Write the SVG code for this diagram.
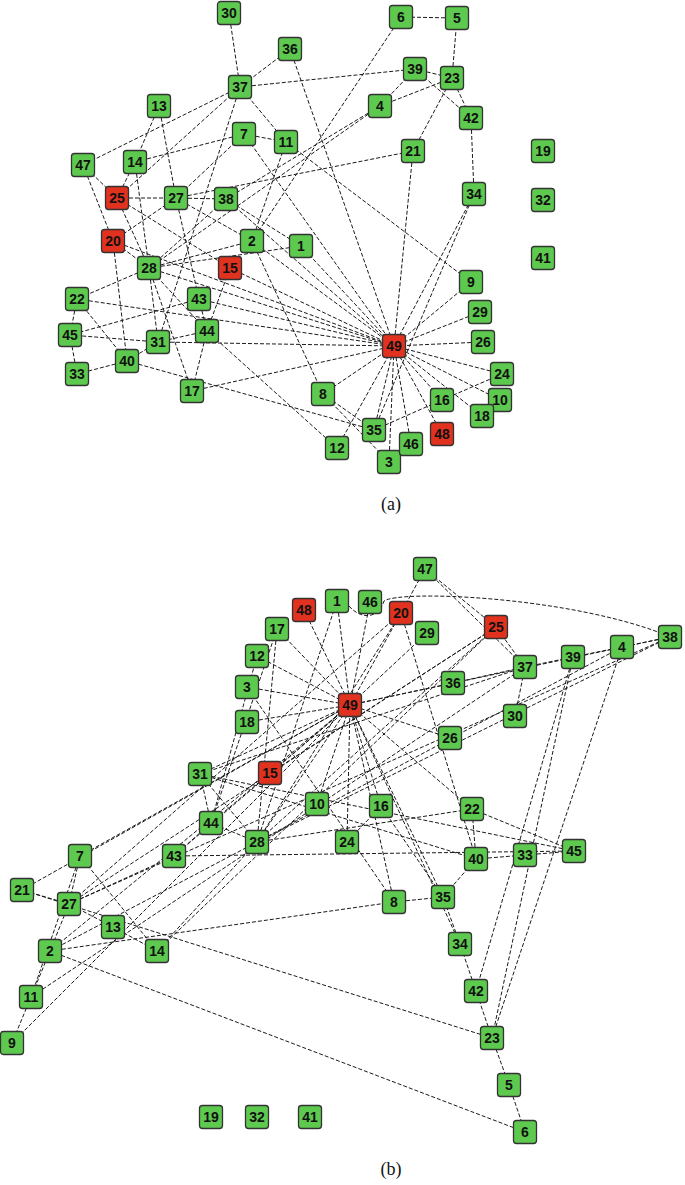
<svg xmlns="http://www.w3.org/2000/svg" width="685" height="1185" viewBox="0 0 685 1185">
<defs>
<style>
.e line, .e path { stroke:#1a1a1a; stroke-width:1; stroke-dasharray:4 2; fill:none; }
.n rect { width:23px; height:23px; rx:3px; stroke:#333; stroke-width:1.3; fill:#5ec94f; }
.n.r rect { fill:#e0321f; }
.n text { font-family:"Liberation Sans", Arial, sans-serif; font-weight:bold; font-size:14px; fill:#111; text-anchor:middle; }
.cap { font-family:"Liberation Serif", "Times New Roman", serif; font-size:18px; fill:#111; text-anchor:middle; }
</style>
</defs>
<rect width="685" height="1185" fill="#fff"/>
<g id="edges-a" class="e">
<line x1="229" y1="13" x2="240" y2="87"/>
<line x1="290" y1="49" x2="240" y2="87"/>
<line x1="290" y1="49" x2="394" y2="346"/>
<line x1="240" y1="87" x2="415" y2="69"/>
<line x1="240" y1="87" x2="83" y2="165"/>
<line x1="240" y1="87" x2="117" y2="198"/>
<line x1="240" y1="87" x2="158" y2="342"/>
<line x1="240" y1="87" x2="286" y2="142"/>
<line x1="159" y1="106" x2="135" y2="162"/>
<line x1="159" y1="106" x2="176" y2="198"/>
<line x1="244" y1="134" x2="135" y2="162"/>
<line x1="244" y1="134" x2="286" y2="142"/>
<line x1="244" y1="134" x2="176" y2="198"/>
<line x1="244" y1="134" x2="394" y2="346"/>
<line x1="83" y1="165" x2="117" y2="198"/>
<line x1="83" y1="165" x2="113" y2="241"/>
<line x1="135" y1="162" x2="117" y2="198"/>
<line x1="135" y1="162" x2="149" y2="268"/>
<line x1="117" y1="198" x2="176" y2="198"/>
<line x1="117" y1="198" x2="149" y2="268"/>
<line x1="117" y1="198" x2="230" y2="268"/>
<line x1="176" y1="198" x2="413" y2="151"/>
<line x1="176" y1="198" x2="226" y2="199"/>
<line x1="176" y1="198" x2="113" y2="241"/>
<line x1="176" y1="198" x2="252" y2="241"/>
<line x1="176" y1="198" x2="199" y2="299"/>
<line x1="226" y1="199" x2="380" y2="106"/>
<line x1="226" y1="199" x2="301" y2="246"/>
<line x1="226" y1="199" x2="394" y2="346"/>
<line x1="226" y1="199" x2="149" y2="268"/>
<line x1="149" y1="268" x2="380" y2="106"/>
<line x1="252" y1="241" x2="401" y2="17"/>
<line x1="415" y1="69" x2="380" y2="106"/>
<line x1="415" y1="69" x2="452" y2="78"/>
<line x1="415" y1="69" x2="471" y2="118"/>
<line x1="452" y1="78" x2="457" y2="18"/>
<line x1="457" y1="18" x2="401" y2="17"/>
<line x1="452" y1="78" x2="380" y2="106"/>
<line x1="452" y1="78" x2="471" y2="118"/>
<line x1="452" y1="78" x2="413" y2="151"/>
<line x1="471" y1="118" x2="474" y2="194"/>
<line x1="413" y1="151" x2="394" y2="346"/>
<line x1="474" y1="194" x2="394" y2="346"/>
<line x1="474" y1="194" x2="374" y2="430"/>
<line x1="471" y1="282" x2="394" y2="346"/>
<line x1="480" y1="312" x2="394" y2="346"/>
<line x1="483" y1="342" x2="394" y2="346"/>
<line x1="502" y1="374" x2="394" y2="346"/>
<line x1="500" y1="400" x2="394" y2="346"/>
<line x1="482" y1="416" x2="394" y2="346"/>
<line x1="442" y1="400" x2="394" y2="346"/>
<line x1="442" y1="434" x2="394" y2="346"/>
<line x1="411" y1="444" x2="394" y2="346"/>
<line x1="389" y1="462" x2="394" y2="346"/>
<line x1="374" y1="430" x2="394" y2="346"/>
<line x1="337" y1="448" x2="394" y2="346"/>
<line x1="323" y1="394" x2="394" y2="346"/>
<line x1="192" y1="391" x2="394" y2="346"/>
<line x1="158" y1="342" x2="394" y2="346"/>
<line x1="77" y1="299" x2="394" y2="346"/>
<line x1="199" y1="299" x2="394" y2="346"/>
<line x1="149" y1="268" x2="394" y2="346"/>
<line x1="230" y1="268" x2="394" y2="346"/>
<line x1="252" y1="241" x2="394" y2="346"/>
<line x1="301" y1="246" x2="394" y2="346"/>
<line x1="113" y1="241" x2="394" y2="346"/>
<line x1="113" y1="241" x2="149" y2="268"/>
<line x1="113" y1="241" x2="127" y2="361"/>
<line x1="149" y1="268" x2="77" y2="299"/>
<line x1="149" y1="268" x2="158" y2="342"/>
<line x1="149" y1="268" x2="192" y2="391"/>
<line x1="149" y1="268" x2="252" y2="241"/>
<line x1="149" y1="268" x2="301" y2="246"/>
<line x1="149" y1="268" x2="207" y2="331"/>
<line x1="199" y1="299" x2="207" y2="331"/>
<line x1="199" y1="299" x2="70" y2="335"/>
<line x1="207" y1="331" x2="230" y2="268"/>
<line x1="207" y1="331" x2="158" y2="342"/>
<line x1="207" y1="331" x2="192" y2="391"/>
<line x1="207" y1="331" x2="337" y2="448"/>
<line x1="158" y1="342" x2="127" y2="361"/>
<line x1="158" y1="342" x2="70" y2="335"/>
<line x1="127" y1="361" x2="77" y2="299"/>
<line x1="127" y1="361" x2="77" y2="374"/>
<line x1="127" y1="361" x2="374" y2="430"/>
<line x1="77" y1="299" x2="70" y2="335"/>
<line x1="77" y1="374" x2="70" y2="335"/>
<line x1="252" y1="241" x2="286" y2="142"/>
<line x1="252" y1="241" x2="323" y2="394"/>
<line x1="323" y1="394" x2="374" y2="430"/>
<line x1="323" y1="394" x2="389" y2="462"/>
<line x1="374" y1="430" x2="442" y2="400"/>
<line x1="442" y1="400" x2="502" y2="374"/>
<line x1="286" y1="142" x2="471" y2="282"/>
</g>
<g id="nodes-a">
<g id="a-n1" class="n"><rect x="289.5" y="234.5"/><text x="301" y="251">1</text></g>
<g id="a-n2" class="n"><rect x="240.5" y="229.5"/><text x="252" y="246">2</text></g>
<g id="a-n3" class="n"><rect x="377.5" y="450.5"/><text x="389" y="467">3</text></g>
<g id="a-n4" class="n"><rect x="368.5" y="94.5"/><text x="380" y="111">4</text></g>
<g id="a-n5" class="n"><rect x="445.5" y="6.5"/><text x="457" y="23">5</text></g>
<g id="a-n6" class="n"><rect x="389.5" y="5.5"/><text x="401" y="22">6</text></g>
<g id="a-n7" class="n"><rect x="232.5" y="122.5"/><text x="244" y="139">7</text></g>
<g id="a-n8" class="n"><rect x="311.5" y="382.5"/><text x="323" y="399">8</text></g>
<g id="a-n9" class="n"><rect x="459.5" y="270.5"/><text x="471" y="287">9</text></g>
<g id="a-n10" class="n"><rect x="488.5" y="388.5"/><text x="500" y="405">10</text></g>
<g id="a-n11" class="n"><rect x="274.5" y="130.5"/><text x="286" y="147">11</text></g>
<g id="a-n12" class="n"><rect x="325.5" y="436.5"/><text x="337" y="453">12</text></g>
<g id="a-n13" class="n"><rect x="147.5" y="94.5"/><text x="159" y="111">13</text></g>
<g id="a-n14" class="n"><rect x="123.5" y="150.5"/><text x="135" y="167">14</text></g>
<g id="a-n15" class="n r"><rect x="218.5" y="256.5"/><text x="230" y="273">15</text></g>
<g id="a-n16" class="n"><rect x="430.5" y="388.5"/><text x="442" y="405">16</text></g>
<g id="a-n17" class="n"><rect x="180.5" y="379.5"/><text x="192" y="396">17</text></g>
<g id="a-n18" class="n"><rect x="470.5" y="404.5"/><text x="482" y="421">18</text></g>
<g id="a-n19" class="n"><rect x="531.5" y="139.5"/><text x="543" y="156">19</text></g>
<g id="a-n20" class="n r"><rect x="101.5" y="229.5"/><text x="113" y="246">20</text></g>
<g id="a-n21" class="n"><rect x="401.5" y="139.5"/><text x="413" y="156">21</text></g>
<g id="a-n22" class="n"><rect x="65.5" y="287.5"/><text x="77" y="304">22</text></g>
<g id="a-n23" class="n"><rect x="440.5" y="66.5"/><text x="452" y="83">23</text></g>
<g id="a-n24" class="n"><rect x="490.5" y="362.5"/><text x="502" y="379">24</text></g>
<g id="a-n25" class="n r"><rect x="105.5" y="186.5"/><text x="117" y="203">25</text></g>
<g id="a-n26" class="n"><rect x="471.5" y="330.5"/><text x="483" y="347">26</text></g>
<g id="a-n27" class="n"><rect x="164.5" y="186.5"/><text x="176" y="203">27</text></g>
<g id="a-n28" class="n"><rect x="137.5" y="256.5"/><text x="149" y="273">28</text></g>
<g id="a-n29" class="n"><rect x="468.5" y="300.5"/><text x="480" y="317">29</text></g>
<g id="a-n30" class="n"><rect x="217.5" y="1.5"/><text x="229" y="18">30</text></g>
<g id="a-n31" class="n"><rect x="146.5" y="330.5"/><text x="158" y="347">31</text></g>
<g id="a-n32" class="n"><rect x="531.5" y="188.5"/><text x="543" y="205">32</text></g>
<g id="a-n33" class="n"><rect x="65.5" y="362.5"/><text x="77" y="379">33</text></g>
<g id="a-n34" class="n"><rect x="462.5" y="182.5"/><text x="474" y="199">34</text></g>
<g id="a-n35" class="n"><rect x="362.5" y="418.5"/><text x="374" y="435">35</text></g>
<g id="a-n36" class="n"><rect x="278.5" y="37.5"/><text x="290" y="54">36</text></g>
<g id="a-n37" class="n"><rect x="228.5" y="75.5"/><text x="240" y="92">37</text></g>
<g id="a-n38" class="n"><rect x="214.5" y="187.5"/><text x="226" y="204">38</text></g>
<g id="a-n39" class="n"><rect x="403.5" y="57.5"/><text x="415" y="74">39</text></g>
<g id="a-n40" class="n"><rect x="115.5" y="349.5"/><text x="127" y="366">40</text></g>
<g id="a-n41" class="n"><rect x="531.5" y="246.5"/><text x="543" y="263">41</text></g>
<g id="a-n42" class="n"><rect x="459.5" y="106.5"/><text x="471" y="123">42</text></g>
<g id="a-n43" class="n"><rect x="187.5" y="287.5"/><text x="199" y="304">43</text></g>
<g id="a-n44" class="n"><rect x="195.5" y="319.5"/><text x="207" y="336">44</text></g>
<g id="a-n45" class="n"><rect x="58.5" y="323.5"/><text x="70" y="340">45</text></g>
<g id="a-n46" class="n"><rect x="399.5" y="432.5"/><text x="411" y="449">46</text></g>
<g id="a-n47" class="n"><rect x="71.5" y="153.5"/><text x="83" y="170">47</text></g>
<g id="a-n48" class="n r"><rect x="430.5" y="422.5"/><text x="442" y="439">48</text></g>
<g id="a-n49" class="n r"><rect x="382.5" y="334.5"/><text x="394" y="351">49</text></g>
</g>
<text class="cap" x="391" y="510">(a)</text>
<g id="edges-b" class="e">
<line x1="515" y1="716" x2="525" y2="667"/>
<line x1="453" y1="683" x2="525" y2="667"/>
<line x1="453" y1="683" x2="350" y2="705"/>
<line x1="525" y1="667" x2="573" y2="657"/>
<line x1="525" y1="667" x2="425" y2="569"/>
<line x1="525" y1="667" x2="496" y2="627"/>
<line x1="525" y1="667" x2="200" y2="774"/>
<line x1="525" y1="667" x2="31" y2="997"/>
<line x1="113" y1="927" x2="157" y2="951"/>
<line x1="113" y1="927" x2="69" y2="904"/>
<line x1="80" y1="856" x2="157" y2="951"/>
<line x1="80" y1="856" x2="31" y2="997"/>
<line x1="80" y1="856" x2="69" y2="904"/>
<line x1="80" y1="856" x2="350" y2="705"/>
<line x1="425" y1="569" x2="496" y2="627"/>
<line x1="425" y1="569" x2="401" y2="613"/>
<line x1="157" y1="951" x2="496" y2="627"/>
<line x1="157" y1="951" x2="257" y2="842"/>
<line x1="496" y1="627" x2="69" y2="904"/>
<line x1="496" y1="627" x2="257" y2="842"/>
<line x1="496" y1="627" x2="270" y2="773"/>
<line x1="69" y1="904" x2="22" y2="890"/>
<line x1="69" y1="904" x2="670" y2="637"/>
<line x1="69" y1="904" x2="401" y2="613"/>
<line x1="69" y1="904" x2="50" y2="951"/>
<line x1="69" y1="904" x2="174" y2="856"/>
<line x1="670" y1="637" x2="622" y2="647"/>
<path d="M349,606 C360,619 378,620 384,601 C400,590 560,596 658,632"/>
<line x1="670" y1="637" x2="350" y2="705"/>
<line x1="670" y1="637" x2="257" y2="842"/>
<line x1="257" y1="842" x2="622" y2="647"/>
<line x1="50" y1="951" x2="525" y2="1132"/>
<line x1="573" y1="657" x2="622" y2="647"/>
<line x1="573" y1="657" x2="492" y2="1038"/>
<line x1="573" y1="657" x2="476" y2="991"/>
<line x1="492" y1="1038" x2="509" y2="1085"/>
<line x1="509" y1="1085" x2="525" y2="1132"/>
<line x1="492" y1="1038" x2="622" y2="647"/>
<line x1="492" y1="1038" x2="476" y2="991"/>
<line x1="492" y1="1038" x2="22" y2="890"/>
<line x1="476" y1="991" x2="460" y2="944"/>
<line x1="22" y1="890" x2="350" y2="705"/>
<line x1="460" y1="944" x2="350" y2="705"/>
<line x1="460" y1="944" x2="443" y2="897"/>
<line x1="12" y1="1043" x2="350" y2="705"/>
<line x1="427" y1="633" x2="350" y2="705"/>
<line x1="450" y1="738" x2="350" y2="705"/>
<line x1="347" y1="842" x2="350" y2="705"/>
<line x1="317" y1="804" x2="350" y2="705"/>
<line x1="247" y1="722" x2="350" y2="705"/>
<line x1="381" y1="806" x2="350" y2="705"/>
<line x1="304" y1="610" x2="350" y2="705"/>
<line x1="370" y1="602" x2="350" y2="705"/>
<line x1="247" y1="687" x2="350" y2="705"/>
<line x1="443" y1="897" x2="350" y2="705"/>
<line x1="257" y1="656" x2="350" y2="705"/>
<line x1="394" y1="902" x2="350" y2="705"/>
<line x1="277" y1="629" x2="350" y2="705"/>
<line x1="200" y1="774" x2="350" y2="705"/>
<line x1="472" y1="809" x2="350" y2="705"/>
<line x1="174" y1="856" x2="350" y2="705"/>
<line x1="257" y1="842" x2="350" y2="705"/>
<line x1="270" y1="773" x2="350" y2="705"/>
<line x1="50" y1="951" x2="350" y2="705"/>
<line x1="337" y1="601" x2="350" y2="705"/>
<line x1="401" y1="613" x2="350" y2="705"/>
<line x1="401" y1="613" x2="257" y2="842"/>
<line x1="401" y1="613" x2="476" y2="859"/>
<line x1="257" y1="842" x2="472" y2="809"/>
<line x1="257" y1="842" x2="200" y2="774"/>
<line x1="257" y1="842" x2="277" y2="629"/>
<line x1="257" y1="842" x2="50" y2="951"/>
<line x1="257" y1="842" x2="337" y2="601"/>
<line x1="257" y1="842" x2="211" y2="823"/>
<line x1="174" y1="856" x2="211" y2="823"/>
<line x1="174" y1="856" x2="574" y2="851"/>
<line x1="211" y1="823" x2="270" y2="773"/>
<line x1="211" y1="823" x2="200" y2="774"/>
<line x1="211" y1="823" x2="277" y2="629"/>
<line x1="211" y1="823" x2="257" y2="656"/>
<line x1="200" y1="774" x2="476" y2="859"/>
<line x1="200" y1="774" x2="574" y2="851"/>
<line x1="476" y1="859" x2="472" y2="809"/>
<line x1="476" y1="859" x2="525" y2="855"/>
<line x1="476" y1="859" x2="443" y2="897"/>
<line x1="472" y1="809" x2="574" y2="851"/>
<line x1="525" y1="855" x2="574" y2="851"/>
<line x1="50" y1="951" x2="31" y2="997"/>
<line x1="50" y1="951" x2="394" y2="902"/>
<line x1="394" y1="902" x2="443" y2="897"/>
<line x1="394" y1="902" x2="247" y2="687"/>
<line x1="443" y1="897" x2="381" y2="806"/>
<line x1="381" y1="806" x2="347" y2="842"/>
<line x1="31" y1="997" x2="12" y2="1043"/>
</g>
<g id="nodes-b">
<g id="b-n1" class="n"><rect x="325.5" y="589.5"/><text x="337" y="606">1</text></g>
<g id="b-n2" class="n"><rect x="38.5" y="939.5"/><text x="50" y="956">2</text></g>
<g id="b-n3" class="n"><rect x="235.5" y="675.5"/><text x="247" y="692">3</text></g>
<g id="b-n4" class="n"><rect x="610.5" y="635.5"/><text x="622" y="652">4</text></g>
<g id="b-n5" class="n"><rect x="497.5" y="1073.5"/><text x="509" y="1090">5</text></g>
<g id="b-n6" class="n"><rect x="513.5" y="1120.5"/><text x="525" y="1137">6</text></g>
<g id="b-n7" class="n"><rect x="68.5" y="844.5"/><text x="80" y="861">7</text></g>
<g id="b-n8" class="n"><rect x="382.5" y="890.5"/><text x="394" y="907">8</text></g>
<g id="b-n9" class="n"><rect x="0.5" y="1031.5"/><text x="12" y="1048">9</text></g>
<g id="b-n10" class="n"><rect x="305.5" y="792.5"/><text x="317" y="809">10</text></g>
<g id="b-n11" class="n"><rect x="19.5" y="985.5"/><text x="31" y="1002">11</text></g>
<g id="b-n12" class="n"><rect x="245.5" y="644.5"/><text x="257" y="661">12</text></g>
<g id="b-n13" class="n"><rect x="101.5" y="915.5"/><text x="113" y="932">13</text></g>
<g id="b-n14" class="n"><rect x="145.5" y="939.5"/><text x="157" y="956">14</text></g>
<g id="b-n15" class="n r"><rect x="258.5" y="761.5"/><text x="270" y="778">15</text></g>
<g id="b-n16" class="n"><rect x="369.5" y="794.5"/><text x="381" y="811">16</text></g>
<g id="b-n17" class="n"><rect x="265.5" y="617.5"/><text x="277" y="634">17</text></g>
<g id="b-n18" class="n"><rect x="235.5" y="710.5"/><text x="247" y="727">18</text></g>
<g id="b-n19" class="n"><rect x="199.5" y="1105.5"/><text x="211" y="1122">19</text></g>
<g id="b-n20" class="n r"><rect x="389.5" y="601.5"/><text x="401" y="618">20</text></g>
<g id="b-n21" class="n"><rect x="10.5" y="878.5"/><text x="22" y="895">21</text></g>
<g id="b-n22" class="n"><rect x="460.5" y="797.5"/><text x="472" y="814">22</text></g>
<g id="b-n23" class="n"><rect x="480.5" y="1026.5"/><text x="492" y="1043">23</text></g>
<g id="b-n24" class="n"><rect x="335.5" y="830.5"/><text x="347" y="847">24</text></g>
<g id="b-n25" class="n r"><rect x="484.5" y="615.5"/><text x="496" y="632">25</text></g>
<g id="b-n26" class="n"><rect x="438.5" y="726.5"/><text x="450" y="743">26</text></g>
<g id="b-n27" class="n"><rect x="57.5" y="892.5"/><text x="69" y="909">27</text></g>
<g id="b-n28" class="n"><rect x="245.5" y="830.5"/><text x="257" y="847">28</text></g>
<g id="b-n29" class="n"><rect x="415.5" y="621.5"/><text x="427" y="638">29</text></g>
<g id="b-n30" class="n"><rect x="503.5" y="704.5"/><text x="515" y="721">30</text></g>
<g id="b-n31" class="n"><rect x="188.5" y="762.5"/><text x="200" y="779">31</text></g>
<g id="b-n32" class="n"><rect x="245.5" y="1105.5"/><text x="257" y="1122">32</text></g>
<g id="b-n33" class="n"><rect x="513.5" y="843.5"/><text x="525" y="860">33</text></g>
<g id="b-n34" class="n"><rect x="448.5" y="932.5"/><text x="460" y="949">34</text></g>
<g id="b-n35" class="n"><rect x="431.5" y="885.5"/><text x="443" y="902">35</text></g>
<g id="b-n36" class="n"><rect x="441.5" y="671.5"/><text x="453" y="688">36</text></g>
<g id="b-n37" class="n"><rect x="513.5" y="655.5"/><text x="525" y="672">37</text></g>
<g id="b-n38" class="n"><rect x="658.5" y="625.5"/><text x="670" y="642">38</text></g>
<g id="b-n39" class="n"><rect x="561.5" y="645.5"/><text x="573" y="662">39</text></g>
<g id="b-n40" class="n"><rect x="464.5" y="847.5"/><text x="476" y="864">40</text></g>
<g id="b-n41" class="n"><rect x="298.5" y="1105.5"/><text x="310" y="1122">41</text></g>
<g id="b-n42" class="n"><rect x="464.5" y="979.5"/><text x="476" y="996">42</text></g>
<g id="b-n43" class="n"><rect x="162.5" y="844.5"/><text x="174" y="861">43</text></g>
<g id="b-n44" class="n"><rect x="199.5" y="811.5"/><text x="211" y="828">44</text></g>
<g id="b-n45" class="n"><rect x="562.5" y="839.5"/><text x="574" y="856">45</text></g>
<g id="b-n46" class="n"><rect x="358.5" y="590.5"/><text x="370" y="607">46</text></g>
<g id="b-n47" class="n"><rect x="413.5" y="557.5"/><text x="425" y="574">47</text></g>
<g id="b-n48" class="n r"><rect x="292.5" y="598.5"/><text x="304" y="615">48</text></g>
<g id="b-n49" class="n r"><rect x="338.5" y="693.5"/><text x="350" y="710">49</text></g>
</g>
<text class="cap" x="391" y="1175">(b)</text>
</svg>
